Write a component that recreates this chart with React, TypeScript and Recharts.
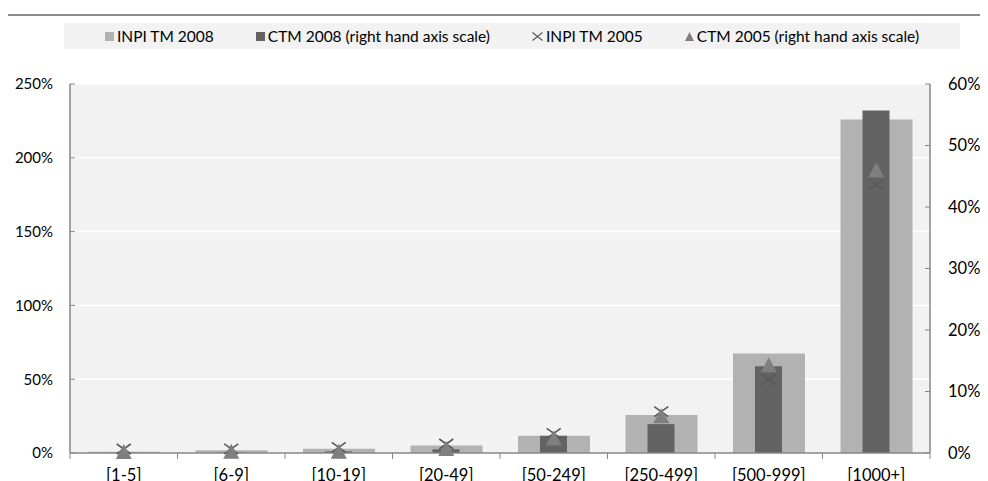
import { ComposedChart, Bar, Line, XAxis, YAxis, CartesianGrid, Legend } from 'recharts';

const categories = ['[1-5]', '[6-9]', '[10-19]', '[20-49]', '[50-249]', '[250-499]', '[500-999]', '[1000+]'];
// left axis
const inpiTm2008 = [0.009, 0.018, 0.029, 0.051, 0.117, 0.258, 0.674, 2.26];
const inpiTm2005 = [0.027, 0.028, 0.038, 0.061, 0.133, 0.28, 0.498, 1.82];
// right axis
const ctm2008 = [0.0005, 0.001, 0.0026, 0.006, 0.028, 0.047, 0.141, 0.557];
const ctm2005 = [0.0002, 0.0003, 0.0005, 0.005, 0.022, 0.058, 0.141, 0.458];

const leftTicks = [0, 0.5, 1, 1.5, 2, 2.5];
const rightTicks = [0, 0.1, 0.2, 0.3, 0.4, 0.5, 0.6];

const seriesNames = ['INPI TM 2008', 'CTM 2008 (right hand axis scale)', 'INPI TM 2005', 'CTM 2005 (right hand axis scale)'];

const data = categories.map((cat, i) => ({
  cat,
  inpi2008: inpiTm2008[i],
  ctm2008: ctm2008[i],
  inpi2005: inpiTm2005[i],
  ctm2005: ctm2005[i],
}));

const FONT = 'Lato, sans-serif';
const AXIS = '#868686';
const pct = (v: number) => `${Math.round(v * 100)}%`;

const XMark = (props: any) => {
  const { cx, cy, index } = props;
  if (cx == null || cy == null) return <g key={`x-${index}`} />;
  return (
    <path
      key={`x-${index}`}
      d={`M${cx - 7},${cy - 5}L${cx + 7},${cy + 5}M${cx - 7},${cy + 5}L${cx + 7},${cy - 5}`}
      stroke="#595959"
      strokeWidth={1.6}
      fill="none"
    />
  );
};

const TriMark = (props: any) => {
  const { cx, cy, index } = props;
  if (cx == null || cy == null) return <g key={`t-${index}`} />;
  return (
    <polygon
      key={`t-${index}`}
      points={`${cx},${cy - 9} ${cx + 8},${cy + 6} ${cx - 8},${cy + 6}`}
      fill="#7f7f7f"
    />
  );
};

const CatTick = (props: any) => {
  const { x, y, payload, index, visibleTicksCount } = props;
  const half = payload?.offset || 53.75;
  return (
    <g>
      <line x1={x - half} x2={x - half} y1={y} y2={y + 6} stroke={AXIS} />
      {index === visibleTicksCount - 1 && <line x1={x + half} x2={x + half} y1={y} y2={y + 6} stroke={AXIS} />}
      <text x={x} y={y + 28} textAnchor="middle" fontSize={16.5} fill="#000" fontFamily={FONT}>
        {payload.value}
      </text>
    </g>
  );
};

const icons = [
  <svg width={9} height={9}><rect width={9} height={9} fill="#b2b2b2" /></svg>,
  <svg width={9} height={9}><rect width={9} height={9} fill="#636363" /></svg>,
  <svg width={11} height={9}><path d="M0.5,0.5L10.5,8.5M0.5,8.5L10.5,0.5" stroke="#595959" strokeWidth={1.2} /></svg>,
  <svg width={9} height={9}><polygon points="4.5,0 9,9 0,9" fill="#7f7f7f" /></svg>,
];

const LegendBox = () => (
  <div
    style={{
      background: '#f2f2f2',
      height: 26,
      display: 'flex',
      alignItems: 'center',
      justifyContent: 'center',
      gap: 42,
      fontFamily: FONT,
      fontSize: 15.5,
      color: '#000',
    }}
  >
    {seriesNames.map((name, i) => (
      <div key={name} style={{ display: 'flex', alignItems: 'center', gap: 3 }}>
        {icons[i]}
        <span>{name}</span>
      </div>
    ))}
  </div>
);

export default function App() {
  return (
    <div style={{ position: 'relative', width: 980, height: 473 }}>
      <div style={{ position: 'absolute', left: -3, top: 6, width: 983, borderTop: '2px solid #8c8c8c' }} />
      <ComposedChart width={980} height={473} data={data} margin={{ top: 76, right: 0, bottom: 0, left: 0 }}>
        <CartesianGrid
          xAxisId="a"
          yAxisId="left"
          vertical={false}
          stroke="#ffffff"
          strokeWidth={1.5}
          fill="#f2f2f2"
        />
        <XAxis
          xAxisId="a"
          dataKey="cat"
          interval={0}
          height={28}
          tickSize={0}
          tickMargin={0}
          tickLine={false}
          axisLine={{ stroke: AXIS, strokeWidth: 1.5 }}
          tick={<CatTick />}
        />
        <XAxis xAxisId="b" dataKey="cat" hide />
        <YAxis
          yAxisId="left"
          domain={[0, 2.5]}
          ticks={leftTicks}
          tickFormatter={pct}
          width={62}
          tickSize={-5}
          tickMargin={22}
          axisLine={{ stroke: AXIS, strokeWidth: 1.5 }}
          tickLine={{ stroke: AXIS }}
          tick={{ fill: '#000', fontSize: 15, fontFamily: FONT }}
        />
        <YAxis
          yAxisId="right"
          orientation="right"
          domain={[0, 0.6]}
          ticks={rightTicks}
          tickFormatter={pct}
          width={58}
          tickSize={-5}
          tickMargin={23}
          axisLine={{ stroke: AXIS, strokeWidth: 1.5 }}
          tickLine={{ stroke: AXIS }}
          tick={{ fill: '#000', fontSize: 16.5, fontFamily: FONT }}
        />
        <Legend
          verticalAlign="middle"
          layout="horizontal"
          align="center"
          wrapperStyle={{ top: 15, left: 56, width: 896 }}
          content={() => <LegendBox />}
        />
        <Bar xAxisId="a" yAxisId="left" dataKey="inpi2008" name={seriesNames[0]} fill="#b2b2b2" barSize={72} isAnimationActive={false} />
        <Bar xAxisId="b" yAxisId="right" dataKey="ctm2008" name={seriesNames[1]} fill="#636363" barSize={27} isAnimationActive={false} />
        <Line
          xAxisId="a"
          yAxisId="left"
          dataKey="inpi2005"
          name={seriesNames[2]}
          stroke="none"
          dot={XMark}
          activeDot={false}
          isAnimationActive={false}
        />
        <Line
          xAxisId="a"
          yAxisId="right"
          dataKey="ctm2005"
          name={seriesNames[3]}
          stroke="none"
          dot={TriMark}
          activeDot={false}
          isAnimationActive={false}
        />
      </ComposedChart>
    </div>
  );
}
